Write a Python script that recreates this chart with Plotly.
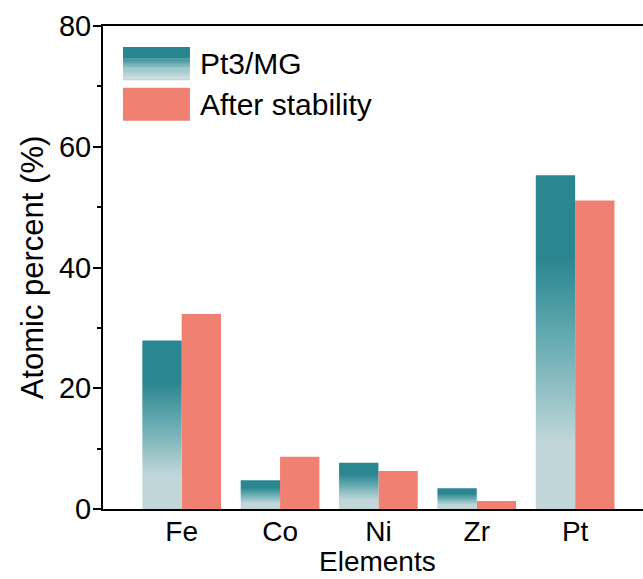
import re
import plotly.graph_objects as go

elements = ["Fe", "Co", "Ni", "Zr", "Pt"]
pt3_mg = [27.9, 4.75, 7.67, 3.42, 55.3]
after_stability = [32.3, 8.67, 6.3, 1.32, 51.1]

DARK = "rgb(42,134,144)"
MID = "rgb(104,172,178)"
LIGHT = "rgb(192,214,217)"
SALMON = "rgb(240,128,113)"
FONT = "Liberation Sans, Arial, sans-serif"
BAR_W = 0.4

teal_scale = [[0.0, LIGHT], [0.2, LIGHT], [0.5, MID], [0.75, DARK], [1.0, DARK]]

fig = go.Figure()

# Pt3/MG bars: gradient-filled polygons built from the data values
for i, v in enumerate(pt3_mg):
    fig.add_trace(go.Scatter(
        x=[i - BAR_W, i - BAR_W, i, i, i - BAR_W],
        y=[0, v, v, 0, 0],
        mode="lines", line=dict(width=0),
        fill="toself",
        fillgradient=dict(type="vertical", start=0, stop=v, colorscale=teal_scale),
        showlegend=False, hoverinfo="skip",
    ))

fig.add_trace(go.Bar(
    x=list(range(len(elements))), y=after_stability,
    width=BAR_W, offset=0,
    marker=dict(color=SALMON, line=dict(width=0)),
    showlegend=False, name="After stability",
))


def parse(c):
    return [int(x) for x in re.findall(r"\d+", c)]


def interp(scale, f):
    for (a, ca), (b, cb) in zip(scale[:-1], scale[1:]):
        if a <= f <= b:
            t = 0 if b == a else (f - a) / (b - a)
            pa, pb = parse(ca), parse(cb)
            return "rgb(%d,%d,%d)" % tuple(round(pa[j] + (pb[j] - pa[j]) * t) for j in range(3))
    return scale[-1][1]


legend_scale = [[0.0, LIGHT], [0.1, LIGHT], [0.45, MID], [0.6, DARK], [1.0, DARK]]

# custom legend (large patches)
lx0, lx1 = 0.037, 0.161
t_top, t_bot = 0.9566, 0.888
s_top, s_bot = 0.8719, 0.8037
n = 34
for k in range(n):
    f = 1 - (k + 0.5) / n
    col = interp(legend_scale, f)
    y1 = t_top - (t_top - t_bot) * k / n
    y0 = t_top - (t_top - t_bot) * (k + 1) / n
    fig.add_shape(type="rect", xref="paper", yref="paper", x0=lx0, x1=lx1,
                  y0=y0 - 0.0004, y1=y1, fillcolor=col, line=dict(width=0), layer="above")
fig.add_shape(type="rect", xref="paper", yref="paper", x0=lx0, x1=lx1,
              y0=s_bot, y1=s_top, fillcolor=SALMON, line=dict(width=0), layer="above")
fig.add_annotation(xref="paper", yref="paper", x=0.175, y=(t_top + t_bot) / 2,
                   text="Pt3/MG", showarrow=False, xanchor="left", yanchor="middle",
                   font=dict(family=FONT, size=30, color="black"))
fig.add_annotation(xref="paper", yref="paper", x=0.175, y=(s_top + s_bot) / 2,
                   text="After stability", showarrow=False, xanchor="left", yanchor="middle",
                   font=dict(family=FONT, size=30, color="black"))

# x-axis title placed explicitly (tight under tick labels as in the reference)
fig.add_annotation(xref="paper", yref="paper", x=0.509, y=-0.108,
                   text="Elements", showarrow=False, xanchor="center", yanchor="middle",
                   font=dict(family=FONT, size=28, color="black"))

fig.update_layout(
    width=643, height=579,
    margin=dict(l=103, r=0, t=26, b=70),
    plot_bgcolor="white", paper_bgcolor="white",
    font=dict(family=FONT, size=28, color="black"),
    showlegend=False,
)
fig.update_xaxes(
    range=[-0.8, 4.69],
    tickmode="array", tickvals=list(range(len(elements))), ticktext=elements,
    ticks="", showgrid=False, zeroline=False,
    showline=True, linecolor="black", linewidth=2, mirror=True,
    tickfont=dict(size=28), ticklabelstandoff=-4,
)
fig.update_yaxes(
    range=[0, 80], dtick=20, ticks="outside", ticklen=8, tickwidth=2, tickcolor="black",
    minor=dict(dtick=10, ticks="outside", ticklen=4, tickwidth=2, tickcolor="black"),
    showgrid=False, zeroline=False,
    showline=True, linecolor="black", linewidth=2, mirror=False,
    tickfont=dict(size=29), ticklabelstandoff=-4,
    title=dict(text="Atomic percent (%)", font=dict(size=31), standoff=6),
)

fig.write_html("out.html")
